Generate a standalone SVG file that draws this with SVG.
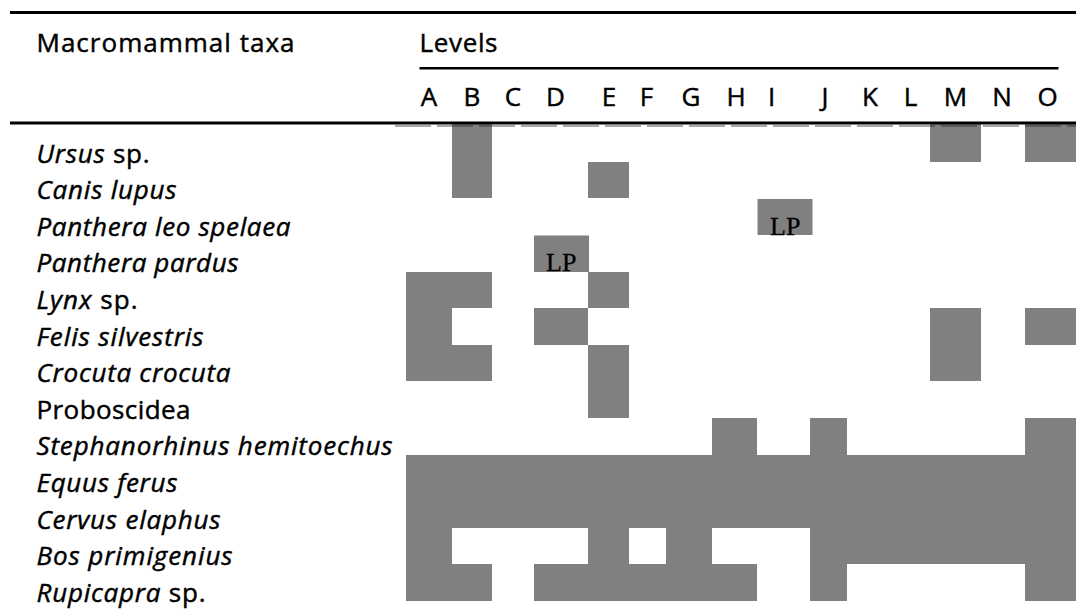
<svg xmlns="http://www.w3.org/2000/svg" width="1076" height="614" viewBox="0 0 1076 614">
<style>
.t{font-family:"Open Sans","Noto Sans","Liberation Sans",sans-serif;font-size:26px;fill:#000;stroke:#000;stroke-width:0.45}
.i{font-style:italic}
.h{font-family:"Open Sans","Noto Sans","Liberation Sans",sans-serif;font-size:26px;fill:#000;stroke:#000;stroke-width:0.45;text-anchor:middle}
.lp{font-family:"Liberation Serif","Times New Roman",serif;font-size:26px;fill:#000;stroke:#000;stroke-width:0.3}
.c{fill:#808080}
.rule{stroke:#000;fill:none}
</style>
<rect width="1076" height="614" fill="#fff"/>
<g id="cells">
<g id="row-ursus"><rect class="c" x="452" y="124" width="40" height="38"/><rect class="c" x="930" y="124" width="51" height="38"/><rect class="c" x="1025" y="124" width="51" height="38"/></g>
<g id="row-canis"><rect class="c" x="452" y="162" width="40" height="36"/><rect class="c" x="588" y="162" width="41" height="36"/></g>
<g id="row-leo"><rect class="c" x="757.5" y="199" width="55" height="36"/></g>
<g id="row-pardus"><rect class="c" x="534" y="235.5" width="55" height="36.5"/></g>
<g id="row-lynx"><rect class="c" x="406" y="272" width="86" height="36"/><rect class="c" x="588" y="272" width="41" height="36"/></g>
<g id="row-felis"><rect class="c" x="406" y="308" width="46" height="37"/><rect class="c" x="534" y="308" width="54" height="37"/><rect class="c" x="930" y="308" width="51" height="37"/><rect class="c" x="1025" y="308" width="51" height="37"/></g>
<g id="row-crocuta"><rect class="c" x="406" y="345" width="86" height="36"/><rect class="c" x="588" y="345" width="41" height="36"/><rect class="c" x="930" y="345" width="51" height="36"/></g>
<g id="row-proboscidea"><rect class="c" x="588" y="381" width="41" height="37"/></g>
<g id="row-stephanorhinus"><rect class="c" x="712" y="418" width="45" height="37"/><rect class="c" x="810" y="418" width="37" height="37"/><rect class="c" x="1025" y="418" width="51" height="37"/></g>
<g id="row-equus"><rect class="c" x="406" y="455" width="670" height="36"/></g>
<g id="row-cervus"><rect class="c" x="406" y="491" width="670" height="37"/></g>
<g id="row-bos"><rect class="c" x="406" y="528" width="46" height="36"/><rect class="c" x="588" y="528" width="41" height="36"/><rect class="c" x="666" y="528" width="46" height="36"/><rect class="c" x="810" y="528" width="266" height="36"/></g>
<g id="row-rupicapra"><rect class="c" x="406" y="564" width="86" height="37"/><rect class="c" x="534" y="564" width="223" height="37"/><rect class="c" x="810" y="564" width="37" height="37"/><rect class="c" x="1025" y="564" width="51" height="37"/></g>
<text class="lp" x="770" y="234.5">LP</text>
<text class="lp" x="546" y="271">LP</text>
</g>
<g id="rules">
<line class="rule" x1="10" y1="12.5" x2="1076" y2="12.5" stroke-width="3"/>
<line class="rule" x1="419.5" y1="68.3" x2="1058.5" y2="68.3" stroke-width="2.6"/>
<line x1="395" y1="126" x2="1076" y2="126" stroke="#222" stroke-opacity="0.4" stroke-width="2" stroke-dasharray="36 6"/>
<line class="rule" x1="10" y1="123" x2="1076" y2="123" stroke-width="3"/>
</g>
<g id="header">
<text class="t" x="36.5" y="51.7" textLength="258">Macromammal taxa</text>
<text class="t" x="419.5" y="51.7" textLength="78">Levels</text>
<text class="h" x="429" y="105.7">A</text>
<text class="h" x="472" y="105.7">B</text>
<text class="h" x="513" y="105.7">C</text>
<text class="h" x="555.5" y="105.7">D</text>
<text class="h" x="609" y="105.7">E</text>
<text class="h" x="646.5" y="105.7">F</text>
<text class="h" x="691" y="105.7">G</text>
<text class="h" x="736" y="105.7">H</text>
<text class="h" x="771.6" y="105.7">I</text>
<text class="h" x="825" y="105.7">J</text>
<text class="h" x="870" y="105.7">K</text>
<text class="h" x="910.5" y="105.7">L</text>
<text class="h" x="955.5" y="105.7">M</text>
<text class="h" x="1002" y="105.7">N</text>
<text class="h" x="1047.5" y="105.7">O</text>
</g>
<g id="taxa">
<text class="t" x="36.5" y="162.5" textLength="113"><tspan class="i">Ursus</tspan> sp.</text>
<text class="t i" x="36.5" y="199.1" textLength="140">Canis lupus</text>
<text class="t i" x="36.5" y="235.7" textLength="254">Panthera leo spelaea</text>
<text class="t i" x="36.5" y="272.3" textLength="202">Panthera pardus</text>
<text class="t" x="36.5" y="308.9" textLength="101"><tspan class="i">Lynx</tspan> sp.</text>
<text class="t i" x="36.5" y="345.5" textLength="167">Felis silvestris</text>
<text class="t i" x="36.5" y="382.1" textLength="194">Crocuta crocuta</text>
<text class="t" x="36.5" y="418.7" textLength="154">Proboscidea</text>
<text class="t i" x="36.5" y="455.3" textLength="356">Stephanorhinus hemitoechus</text>
<text class="t i" x="36.5" y="491.9" textLength="141">Equus ferus</text>
<text class="t i" x="36.5" y="528.5" textLength="184">Cervus elaphus</text>
<text class="t i" x="36.5" y="565.1" textLength="196">Bos primigenius</text>
<text class="t" x="36.5" y="601.7" textLength="169"><tspan class="i">Rupicapra</tspan> sp.</text>
</g>
</svg>
